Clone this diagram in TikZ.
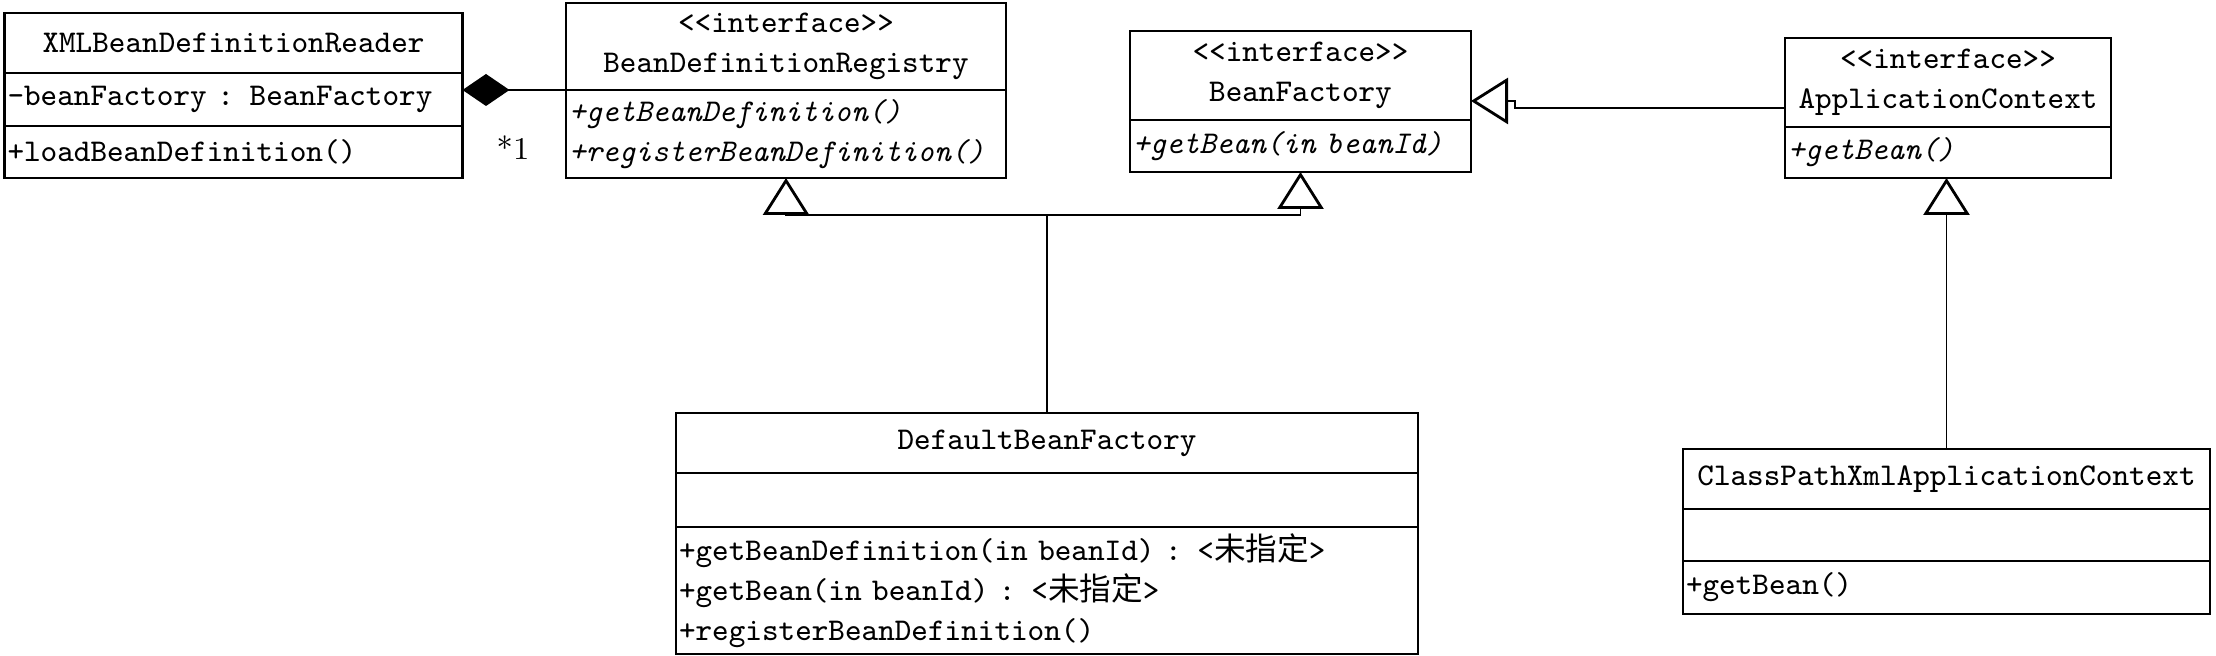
\documentclass[tikz,border=0pt]{standalone}
\usepackage{fontspec}
\newfontfamily\cjk{Noto Sans CJK SC}
\usetikzlibrary{positioning,arrows.meta}
\newcommand{\umlfont}{\fontsize{9}{11.4}\selectfont\ttfamily}
\tikzset{
  compart/.style={draw, line width=0.8pt, outer sep=0pt, inner xsep=0.03cm, inner ysep=0pt, font=\umlfont},
  cname/.style 2 args={compart, minimum width=#1, minimum height=#2, align=center, anchor=north west},
  cpart/.style 2 args={compart, text width=#1, minimum height=#2, align=left},
  abstract/.style={font=\umlfont\itshape},
  realize/.style={line width=0.55pt, -{Triangle[open, length=0.37cm, width=0.46cm, line width=0.8pt]}},
  compose/.style={line width=0.55pt, -{Diamond[length=0.47cm, width=0.32cm]}},
}
\begin{document}
\begin{tikzpicture}
\useasboundingbox (0,0) rectangle (22.16,6.56);

% XMLBeanDefinitionReader
\node[cname={4.58cm}{0.60cm}] (xmlName) at (0.045,6.43) {XMLBeanDefinitionReader};
\node[cpart={4.52cm}{0.53cm}, below=0pt of xmlName] (xmlAttr) {-beanFactory : BeanFactory};
\node[cpart={4.52cm}{0.52cm}, below=0pt of xmlAttr] (xmlOps) {+loadBeanDefinition()};

% BeanDefinitionRegistry
\node[cname={4.40cm}{0.87cm}] (brName) at (5.66,6.53) {<<interface>>\\BeanDefinitionRegistry};
\node[cpart={4.34cm}{0.88cm}, abstract, below=0pt of brName] (brOps) {+getBeanDefinition()\\+registerBeanDefinition()};

% BeanFactory
\node[cname={3.41cm}{0.89cm}] (bfName) at (11.30,6.25) {<<interface>>\\BeanFactory};
\node[cpart={3.35cm}{0.52cm}, abstract, below=0pt of bfName] (bfOps) {+getBean(in beanId)};

% ApplicationContext
\node[cname={3.26cm}{0.89cm}] (acName) at (17.85,6.18) {<<interface>>\\ApplicationContext};
\node[cpart={3.20cm}{0.51cm}, abstract, below=0pt of acName] (acOps) {+getBean()};

% DefaultBeanFactory
\node[cname={7.42cm}{0.60cm}] (dbfName) at (6.76,2.43) {DefaultBeanFactory};
\node[cpart={7.36cm}{0.54cm}, below=0pt of dbfName] (dbfAttr) {};
\node[cpart={7.36cm}{1.27cm}, below=0pt of dbfAttr] (dbfOps) {+getBeanDefinition(in beanId) : <{\cjk 未指定}>\\+getBean(in beanId) : <{\cjk 未指定}>\\+registerBeanDefinition()};

% ClassPathXmlApplicationContext
\node[cname={5.27cm}{0.60cm}] (cpName) at (16.83,2.07) {ClassPathXmlApplicationContext};
\node[cpart={5.21cm}{0.52cm}, below=0pt of cpName] (cpAttr) {};
\node[cpart={5.21cm}{0.53cm}, below=0pt of cpAttr] (cpOps) {+getBean()};

\draw[compose] (brName.south west) -- (brName.south west -| xmlAttr.east); % registry <>- reader
\node[font=\fontsize{9}{11}\selectfont] (mult) at (5.13,5.08) {*1};

\draw[realize] (dbfName.north) |- ([yshift=-0.37cm]brOps.south) -- (brOps.south); % DBF -> registry
\draw[realize] (dbfName.north) |- ([yshift=-0.43cm]bfOps.south) -- (bfOps.south); % DBF -> factory
\draw[realize] ([yshift=-0.255cm]acName.west) -| ([xshift=0.44cm,yshift=-0.255cm]bfName.east) -- ([yshift=-0.255cm]bfName.east); % context -> factory
\draw[realize] (cpName.north) -- (cpName.north |- acOps.south); % classpath -> context
\end{tikzpicture}
\end{document}
